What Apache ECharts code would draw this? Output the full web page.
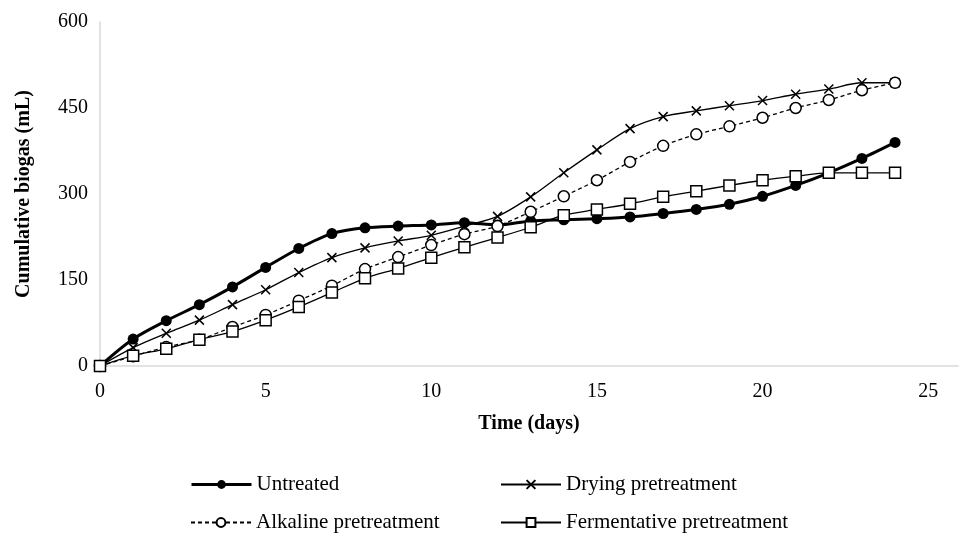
<!DOCTYPE html>
<html>
<head>
<meta charset="utf-8">
<script src="https://cdn.jsdelivr.net/npm/echarts@6/dist/echarts.min.js"></script>
<style>html,body{margin:0;padding:0;background:#fff}#c{width:960px;height:533px}</style>
</head>
<body>
<div id="c"></div>
<script>
const days = [0,1,2,3,4,5,6,7,8,9,10,11,12,13,14,15,16,17,18,19,20,21,22,23,24];
const untreated = [0,47,79,107,138,172,205,231,241,244,246,250,246,253,255,257,260,266,273,282,296,315,337,362,390];
const drying = [0,32,57,80,107,133,163,189,206,218,228,244,261,295,337,377,414,435,445,454,463,474,483,494,494];
const alkaline = [0,17,33,46,68,89,114,140,169,190,211,230,244,269,296,324,356,384,404,418,433,450,464,481,494];
const fermentative = [0,18,30,46,60,80,103,128,153,170,189,207,224,242,263,273,283,295,305,315,324,331,337,337,337];
const xTicks = [0,5,10,15,20,25];
const yTicks = [0,150,300,450,600];
const names = ['Untreated','Drying pretreatment','Alkaline pretreatment','Fermentative pretreatment'];

const FONT = '"Liberation Serif", "Times New Roman", serif';
const pairs = a => days.map((d,i)=>[d,a[i]]);
const xPath = 'path://M0,0L10,10M10,0L0,10';

const chart = echarts.init(document.getElementById('c'), null, {renderer:'canvas'});
const legendBase = {
  orient:'horizontal', itemWidth:60, itemHeight:11, itemGap:0, padding:0,
  textStyle:{fontFamily:FONT, fontSize:21, color:'#000'},
  selectedMode:false
};
chart.setOption({
  animation:false,
  backgroundColor:'#fff',
  grid:{left:100, right:2, top:22, bottom:167, containLabel:false},
  xAxis:{
    type:'value', min:0, max:25.9, interval:5,
    axisLine:{show:true, lineStyle:{color:'#d9d9d9', width:1.5}},
    axisTick:{show:false}, splitLine:{show:false},
    axisLabel:{showMaxLabel:false, margin:16, fontFamily:FONT, fontSize:20, color:'#000',
      formatter: v => xTicks.includes(v) ? String(v) : ''},
    name:'Time (days)', nameLocation:'middle', nameGap:48,
    nameTextStyle:{fontFamily:FONT, fontSize:20, fontWeight:'bold', color:'#000'}
  },
  yAxis:{
    type:'value', min:yTicks[0], max:yTicks[yTicks.length-1], interval:150,
    axisLine:{show:true, lineStyle:{color:'#d9d9d9', width:1.5}},
    axisTick:{show:false}, splitLine:{show:false},
    axisLabel:{margin:12, fontFamily:FONT, fontSize:20, color:'#000'},
    name:'Cumulative biogas (mL)', nameLocation:'middle', nameGap:66,
    nameTextStyle:{fontFamily:FONT, fontSize:20, fontWeight:'bold', color:'#000'}
  },
  legend:[
    Object.assign({}, legendBase, {data:[{name:names[0], lineStyle:{width:3}}], left:190, top:474}),
    Object.assign({}, legendBase, {data:[names[1]], left:500, top:474}),
    Object.assign({}, legendBase, {data:[names[2]], left:190, top:512}),
    Object.assign({}, legendBase, {data:[names[3]], left:500, top:512})
  ],
  series:[
    {name:names[0], type:'line', data:pairs(untreated), smooth:0.3,
      symbol:'circle', symbolSize:11,
      lineStyle:{color:'#000', width:3},
      itemStyle:{color:'#000', borderColor:'#000', borderWidth:0}},
    {name:names[1], type:'line', data:pairs(drying), smooth:0.3,
      symbol:xPath, symbolSize:9,
      lineStyle:{color:'#000', width:1.3},
      itemStyle:{color:'none', borderColor:'#000', borderWidth:1.5}},
    {name:names[2], type:'line', data:pairs(alkaline), smooth:0.3,
      symbol:'circle', symbolSize:11,
      lineStyle:{color:'#000', width:1.3, type:[4,3]},
      itemStyle:{color:'#fff', borderColor:'#000', borderWidth:1.5}},
    {name:names[3], type:'line', data:pairs(fermentative), smooth:0.3,
      symbol:'rect', symbolSize:11,
      lineStyle:{color:'#000', width:1.3},
      itemStyle:{color:'#fff', borderColor:'#000', borderWidth:1.5}}
  ]
});
</script>
</body>
</html>
